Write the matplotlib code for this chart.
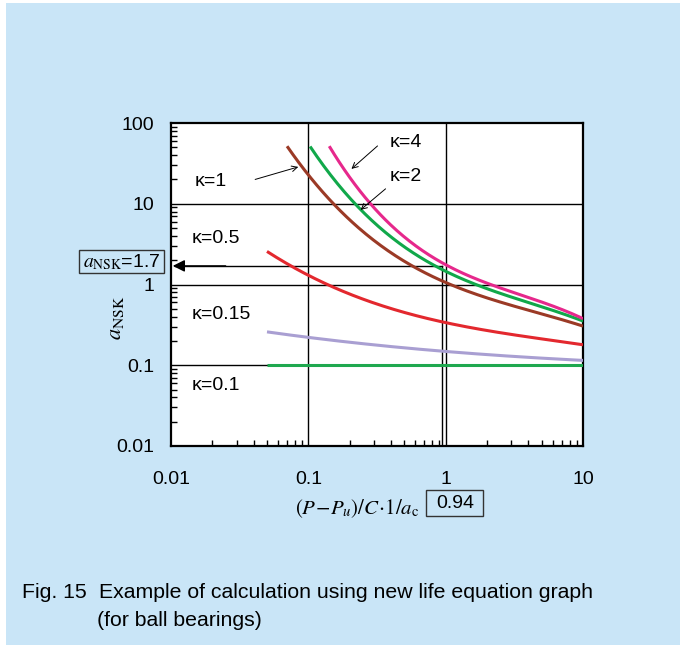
import numpy as np
import matplotlib
matplotlib.use("Agg")
import matplotlib.pyplot as plt
from matplotlib.patches import Rectangle
from matplotlib.ticker import LogLocator, NullFormatter, FixedLocator, FixedFormatter

plt.rcParams['font.family'] = ['Liberation Sans', 'DejaVu Sans']
plt.rcParams['mathtext.fontset'] = 'stix'

# values (x = (P-Pu)/C*1/ac, y = aNSK)
k4_x = [0.142, 0.171, 0.284, 0.47, 1.0, 2.13, 5.2, 10]
k4_y = [52, 31, 10.6, 3.7, 1.92, 1.03, 0.55, 0.39]
k2_x = [0.103, 0.152, 0.24, 0.47, 1.0, 2.13, 4.4, 10]
k2_y = [50, 21.5, 8.7, 2.8, 1.58, 0.89, 0.53, 0.36]
k1_x = [0.070, 0.087, 0.152, 0.27, 0.47, 1.0, 2.13, 3.0, 10]
k1_y = [52, 31, 10, 3.9, 2.1, 1.09, 0.71, 0.50, 0.31]
k05_x = [0.05, 0.087, 0.122, 0.42, 1.0, 2.13, 10]
k05_y = [2.6, 1.45, 1.09, 0.50, 0.34, 0.26, 0.18]
k015_x = [0.05, 0.1, 1.0, 2.13, 10]
k015_y = [0.26, 0.22, 0.15, 0.133, 0.115]
k01_x = [0.05, 10]
k01_y = [0.1, 0.1]

load_ratio = 0.94
a_nsk = 1.7

bg = '#c9e5f7'
W, H = 680, 645


def fx(px):
    return px / W


def fy(py):
    return 1 - py / H


fig = plt.figure(figsize=(6.8, 6.45), dpi=100, facecolor='white')
fig.patches.append(Rectangle((fx(6), 0), 1, fy(3), transform=fig.transFigure,
                             facecolor=bg, edgecolor='none', zorder=-10))

ax = fig.add_axes([fx(171), fy(446), 412 / W, 323 / H])
ax.set_xscale('log')
ax.set_yscale('log')
ax.set_xlim(0.01, 10)
ax.set_ylim(0.01, 100)

curves = [
    (k01_x, k01_y, '#1fa84f'),
    (k015_x, k015_y, '#a99fd2'),
    (k05_x, k05_y, '#e3282e'),
    (k1_x, k1_y, '#9b3a26'),
    (k2_x, k2_y, '#11a84a'),
    (k4_x, k4_y, '#e6288c'),
]
for xs, ys, c in curves:
    lx, ly = np.log10(xs), np.log10(ys)
    deg = min(3, len(xs) - 1)
    p = np.polyfit(lx, ly, deg)
    t = np.linspace(lx[0], lx[-1], 200)
    ax.plot(10 ** t, 10 ** np.polyval(p, t), color=c, lw=2.2, solid_capstyle='butt', zorder=3)

# grid at decades
for v in [0.1, 1]:
    ax.axvline(v, color='black', lw=1.0, zorder=2)
for v in [0.1, 1, 10]:
    ax.axhline(v, color='black', lw=1.0, zorder=2)

# reading lines for the example
ax.plot([load_ratio, load_ratio], [0.01, a_nsk], color='black', lw=1.0, zorder=2)
ax.plot([0.0107, load_ratio], [a_nsk, a_nsk], color='black', lw=1.0, zorder=2)
ax.annotate('', xy=(0.0103, a_nsk), xytext=(0.025, a_nsk),
            arrowprops=dict(arrowstyle='-|>', color='black', lw=1.0,
                            mutation_scale=18, shrinkA=0, shrinkB=0), zorder=4)

for s in ax.spines.values():
    s.set_linewidth(1.6)

ax.yaxis.set_major_locator(FixedLocator([0.01, 0.1, 1, 10, 100]))
ax.yaxis.set_major_formatter(FixedFormatter(['0.01', '0.1', '1', '10', '100']))
ax.xaxis.set_major_locator(FixedLocator([0.01, 0.1, 1, 10]))
ax.xaxis.set_major_formatter(FixedFormatter(['0.01', '0.1', '1', '10']))
ax.yaxis.set_minor_locator(LogLocator(base=10, subs=np.arange(2, 10)))
ax.xaxis.set_minor_locator(LogLocator(base=10, subs=np.arange(2, 10)))
ax.yaxis.set_minor_formatter(NullFormatter())
ax.xaxis.set_minor_formatter(NullFormatter())
ax.tick_params(which='major', length=0, labelsize=14)
ax.tick_params(axis='y', which='major', pad=12)
ax.tick_params(axis='x', which='major', pad=18)
ax.tick_params(which='minor', direction='in', length=4, width=1)

fig.text(fx(116), fy(318), r'$a_{\rm NSK}$', fontsize=16, rotation=90,
         ha='center', va='center')
fig.text(fx(357), fy(509), r'$(P\!-\!P_u)/C\!\cdot\!1/a_{\rm c}$', fontsize=15,
         ha='center', va='center')
fig.patches.append(Rectangle((fx(426), fy(516)), 57 / W, 26 / H, transform=fig.transFigure,
                             facecolor='none', edgecolor='#333333', lw=1))
fig.text(fx(455), fy(503), str(load_ratio), fontsize=14, ha='center', va='center')

fig.patches.append(Rectangle((fx(79), fy(273)), 85 / W, 23 / H, transform=fig.transFigure,
                             facecolor='none', edgecolor='#333333', lw=1))
fig.text(fx(121.5), fy(262), r'$a_{\rm NSK}$' + f'={a_nsk}', fontsize=14,
         ha='center', va='center')

# curve labels
lab = dict(fontsize=14, ha='left', va='center', zorder=5)
ax.text(0.0148, 19, 'κ=1', **lab)
ax.text(0.0142, 3.7, 'κ=0.5', **lab)
ax.text(0.0142, 0.43, 'κ=0.15', **lab)
ax.text(0.0142, 0.056, 'κ=0.1', **lab)
ax.text(0.39, 58, 'κ=4', **lab)
ax.text(0.39, 21.5, 'κ=2', **lab)

arr = dict(arrowstyle='->', color='black', lw=0.7, shrinkA=0, shrinkB=0)
ax.annotate('', xy=(0.0845, 28.6), xytext=(0.041, 20), arrowprops=arr)
ax.annotate('', xy=(0.206, 27), xytext=(0.319, 52), arrowprops=arr)
ax.annotate('', xy=(0.24, 8.4), xytext=(0.365, 15.3), arrowprops=arr)

cap = dict(fontsize=15.3, ha='left', va='center')
fig.text(fx(22), fy(592), 'Fig. 15', **cap)
fig.text(fx(99), fy(592), 'Example of calculation using new life equation graph', **cap)
fig.text(fx(97), fy(620), '(for ball bearings)', **cap)

fig.savefig('out.png', dpi=100, facecolor='white')
